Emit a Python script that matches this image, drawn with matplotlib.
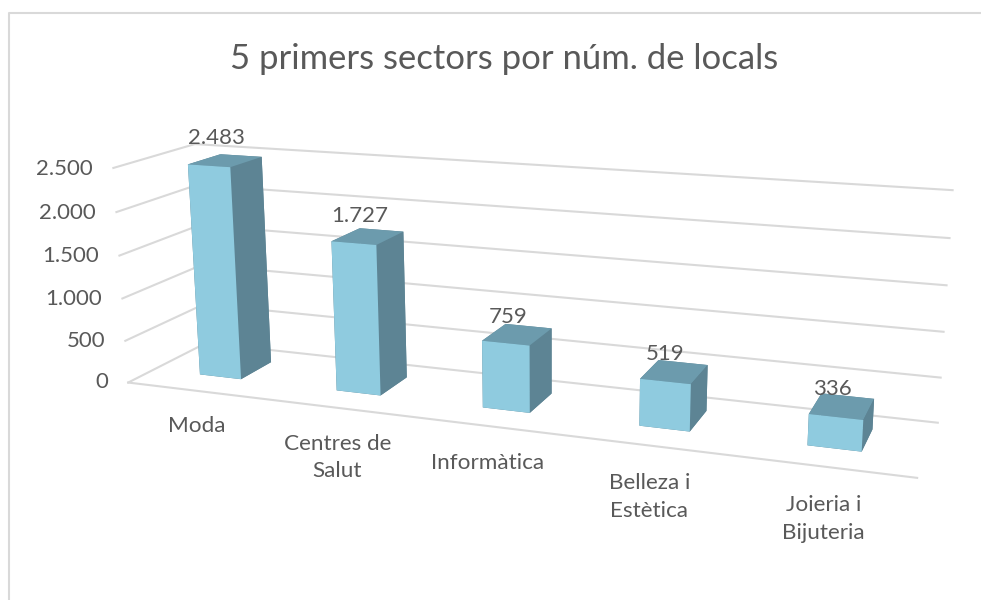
#!/usr/bin/env python3
import matplotlib
matplotlib.use("Agg")
import matplotlib.pyplot as plt
from matplotlib.lines import Line2D
from mpl_toolkits.mplot3d import proj3d

# ---------------------------------------------------------
# DATA
# ---------------------------------------------------------
title = "5 primers sectors por núm. de locals"
categories = ["Moda", "Centres de\nSalut", "Informàtica", "Belleza i\nEstètica", "Joieria i\nBijuteria"]
values = [2483, 1727, 759, 519, 336]
value_labels = ["2.483", "1.727", "759", "519", "336"]
ticks = [0, 500, 1000, 1500, 2000, 2500]
tick_labels = ["0", "500", "1.000", "1.500", "2.000", "2.500"]

# ---------------------------------------------------------
# STYLE
# ---------------------------------------------------------
plt.rcParams["font.family"] = ["Lato", "DejaVu Sans"]
text_color = "#595959"
grid_color = "#D9D9D9"
front_color = "#8FCBDF"
side_color = "#5D8494"
top_color = "#6C9BAD"

bar_w = 0.3074
bar_d0 = 0.3221
bar_d1 = 0.7383

# ---------------------------------------------------------
# 3D AXES (camera fitted to the picture)
# ---------------------------------------------------------
n = len(categories)

fig = plt.figure(figsize=(9.81, 6.0), dpi=100)
ax = fig.add_axes([0, 0, 1, 1], projection="3d", computed_zorder=False)
ax.set_xlim(0, n)
ax.set_ylim(0, 1)
ax.set_zlim(0, 2500)
ax.set_box_aspect((1, 0.1917, 0.2813), zoom=1.4013)
ax.set_proj_type("persp", focal_length=0.4996)
ax.view_init(14.6425, -69.2786, 0.3281)
ax.set_position([0.0171, -0.0005, 1, 1])
ax.set_axis_off()


def put_text(x, y, z, s, **kw):
    # project once and keep it as a plain 2D text on the axes
    px, py, _ = proj3d.proj_transform(x, y, z, ax.get_proj())
    ax.text2D(px, py, s, transform=ax.transData, color=text_color, zorder=3, **kw)


# ---------------------------------------------------------
# GRID
# ---------------------------------------------------------
for t in ticks:
    ax.plot([0, 0, n], [0, 1, 1], [t, t, t], color=grid_color, lw=1.5, zorder=1, clip_on=False)
ax.plot([0, n], [0, 0], [0, 0], color=grid_color, lw=1.5, zorder=1, clip_on=False)

# ---------------------------------------------------------
# BARS (faces: -z, +z, -y, +y, -x, +x)
# ---------------------------------------------------------
face_colors = [side_color, top_color, front_color, side_color, side_color, side_color]
for i, v in enumerate(values):
    col = ax.bar3d(i + 0.5 - bar_w / 2, bar_d0, 0, bar_w, bar_d1 - bar_d0, v,
                   color=face_colors, shade=False, linewidth=0, zorder=2)
    col.set_clip_on(False)

    put_text(i + 0.5 - 0.06, 0.54, v * 1.035 + 160, value_labels[i], ha="center", va="center", fontsize=16)
    put_text(i + 0.5, 0, -300, categories[i], ha="center", va="top", fontsize=16.2, linespacing=1.47)

for t, lab in zip(ticks, tick_labels):
    put_text(-0.155, 0, t - 28, lab, ha="right", va="center", fontsize=16)

# ---------------------------------------------------------
# TITLE + CHART BORDER
# ---------------------------------------------------------
fig.text(504.5 / 981, 1 - 59 / 600, title, ha="center", va="center", fontsize=24.9, color=text_color)

fig.add_artist(Line2D([8.5 / 981, 8.5 / 981, 1], [0, 1 - 13 / 600, 1 - 13 / 600],
                      color=grid_color, lw=1.5))

fig.savefig("out.png", dpi=100)
